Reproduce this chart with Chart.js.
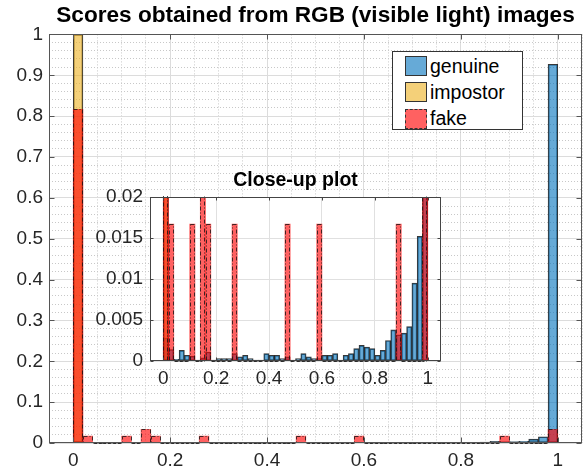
<!DOCTYPE html>
<html>
<head>
<meta charset="utf-8">
<script src="https://cdn.jsdelivr.net/npm/chart.js@4"></script>
<style>
  body { margin: 0; background: #fff; }
  #wrap { position: relative; width: 588px; height: 475px; overflow: hidden; }
  #mainChart { position: absolute; left: 0; top: 0; }
  #insetChart { position: absolute; left: 90px; top: 166px; }
  #legend {
    position: absolute; left: 392px; top: 51px; width: 129px; height: 77px;
    border: 1px solid #333; background: #fff;
    font-family: 'Liberation Sans', Helvetica, Arial, sans-serif; font-size: 19.5px; color: #000;
  }
  #legend .row { position: absolute; left: 12px; height: 20px; display: flex; align-items: center; white-space: nowrap; }
  #legend .sw { display: inline-block; box-sizing: border-box; width: 22px; height: 20px; border: 1px solid #333; margin-right: 3px; }
</style>
</head>
<body>
<div id="wrap">
  <canvas id="mainChart" width="588" height="475"></canvas>
  <canvas id="insetChart" width="360" height="230"></canvas>
  <div id="legend"></div>
</div>
<script>
// histogram bins (width 0.02), given by their centres
const binCenters = [0.01, 0.03, 0.05, 0.07, 0.09, 0.11, 0.13, 0.15, 0.17, 0.19,
  0.21, 0.23, 0.25, 0.27, 0.29, 0.31, 0.33, 0.35, 0.37, 0.39,
  0.41, 0.43, 0.45, 0.47, 0.49, 0.51, 0.53, 0.55, 0.57, 0.59,
  0.61, 0.63, 0.65, 0.67, 0.69, 0.71, 0.73, 0.75, 0.77, 0.79,
  0.81, 0.83, 0.85, 0.87, 0.89, 0.91, 0.93, 0.95, 0.97, 0.99];

const seriesNames = ['genuine', 'impostor', 'fake'];

const genuine = [0.0028, 0.0014, 0.0002, 0.0013, 0.0007, 0.0006, 0.0001, 0.0004, 0.0011, 0.0001,
  0.0003, 0.0003, 0.0003, 0.0009, 0.0005, 0.0007, 0.0003, 0.0001, 0.0001, 0.0009,
  0.0007, 0.0007, 0.0003, 0.0005, 0.0001, 0.0003, 0.0009, 0.0005, 0.0003, 0.0003,
  0.0007, 0.0007, 0.0009, 0.0001, 0.0007, 0.0009, 0.0015, 0.0019, 0.0017, 0.0015,
  0.0007, 0.0013, 0.0025, 0.0038, 0.0032, 0.0034, 0.0042, 0.0095, 0.0152, 0.927];

const impostor = [1, 0, 0, 0, 0, 0, 0, 0, 0, 0,
  0, 0, 0, 0, 0, 0, 0, 0, 0, 0,
  0, 0, 0, 0, 0, 0, 0, 0, 0, 0,
  0, 0, 0, 0, 0, 0, 0, 0, 0, 0,
  0, 0, 0, 0, 0, 0, 0, 0, 0, 0];

const fake = [0.8167, 0.0167, 0, 0, 0, 0.0167, 0, 0.0333, 0.0167, 0,
  0, 0, 0, 0.0167, 0, 0, 0, 0, 0, 0,
  0, 0, 0, 0.0167, 0, 0, 0, 0, 0, 0.0167,
  0, 0, 0, 0, 0, 0, 0, 0, 0, 0,
  0, 0, 0, 0, 0.0167, 0, 0, 0, 0, 0.0333];

// tick labels
const xMajorTicks = [0, 0.2, 0.4, 0.6, 0.8, 1];
const yMajorTicks = [0, 0.1, 0.2, 0.3, 0.4, 0.5, 0.6, 0.7, 0.8, 0.9, 1];
const insetYTicks = [0, 0.005, 0.01, 0.015, 0.02];

const FONT = "'Liberation Sans', Helvetica, Arial, sans-serif";
const fills = ['rgba(0,114,189,0.6)', 'rgba(237,177,32,0.6)', 'rgba(255,0,0,0.62)'];

function stepTicks(lo, hi, step) {
    const out = [];
    const n = Math.round((hi - lo) / step);
    for (let i = 0; i <= n; i++) out.push(+(lo + i * step).toFixed(6));
    return out;
}
function isOn(v, list) { return list.some(t => Math.abs(t - v) < 1e-9); }

function makeDatasets() {
    const all = [genuine, impostor, fake];
    return all.map((vals, i) => ({
        label: seriesNames[i],
        data: vals.map((v, j) => ({ x: binCenters[j], y: v })),
        backgroundColor: fills[i],
        borderColor: 'rgba(20,20,20,0.85)',
        borderWidth: i === 2 ? 0 : 1,
        borderSkipped: false,
        order: 3 - i,          // fake on top, genuine at the bottom
        dashEdge: i === 2
    }));
}

// white plot background, dash-dot edges for "fake", box with inward ticks
const axesPlugin = {
    id: 'axesBox',
    beforeDraw(chart, args, opts) {
        if (!opts.fill) return;
        const a = chart.chartArea, ctx = chart.ctx;
        ctx.save();
        ctx.fillStyle = opts.fill;
        ctx.fillRect(a.left, a.top, a.width, a.height);
        ctx.restore();
    },
    afterDatasetsDraw(chart) {
        const ctx = chart.ctx, a = chart.chartArea;
        chart.data.datasets.forEach((ds, i) => {
            if (!ds.dashEdge) return;
            const meta = chart.getDatasetMeta(i);
            ctx.save();
            ctx.beginPath();
            ctx.rect(a.left, a.top - 1, a.width, a.height + 2);
            ctx.clip();
            ctx.strokeStyle = 'rgba(20,20,20,0.8)';
            ctx.lineWidth = 1;
            ctx.setLineDash([4, 2, 1, 2]);
            meta.data.forEach(bar => {
                const p = bar.getProps(['x', 'y', 'base', 'width'], true);
                const left = Math.round(p.x - p.width / 2) + 0.5;
                const top = Math.round(Math.min(p.y, p.base)) + 0.5;
                const h = Math.round(Math.abs(p.base - p.y));
                ctx.strokeRect(left, top, Math.round(p.width) - 1, h);
            });
            ctx.restore();
        });
    },
    afterDraw(chart, args, opts) {
        const ctx = chart.ctx, a = chart.chartArea;
        const L = Math.round(a.left) + 0.5, R = Math.round(a.right) - 0.5;
        const T = Math.round(a.top) + 0.5, B = Math.round(a.bottom) - 0.5;
        const len = opts.tickLen || 4;
        ctx.save();
        ctx.strokeStyle = opts.color || '#555';
        ctx.lineWidth = 1;
        ctx.strokeRect(L, T, R - L, B - T);
        ctx.beginPath();
        (opts.xTicks || []).forEach(v => {
            const px = Math.round(chart.scales.x.getPixelForValue(v)) + 0.5;
            ctx.moveTo(px, B); ctx.lineTo(px, B - len);
            ctx.moveTo(px, T); ctx.lineTo(px, T + len);
        });
        (opts.yTicks || []).forEach(v => {
            const py = Math.round(chart.scales.y.getPixelForValue(v)) + 0.5;
            ctx.moveTo(L, py); ctx.lineTo(L + len, py);
            ctx.moveTo(R, py); ctx.lineTo(R - len, py);
        });
        ctx.stroke();
        ctx.restore();
    }
};

function tickFont(size) { return { family: FONT, size: size, lineHeight: 1.2 }; }

// ---- main chart ----
const mainXTicks = stepTicks(-0.05, 1.05, 0.05);
const mainYTicks = stepTicks(0, 1, 0.02);

new Chart(document.getElementById('mainChart'), {
    type: 'bar',
    data: { datasets: makeDatasets() },
    plugins: [axesPlugin],
    options: {
        responsive: false,
        animation: false,
        layout: { padding: { left: 0, right: 6, top: 0, bottom: 0 } },
        datasets: { bar: { grouped: false, barPercentage: 1, categoryPercentage: 1 } },
        plugins: {
            legend: { display: false },
            tooltip: { enabled: false },
            title: {
                display: true,
                text: 'Scores obtained from RGB (visible light) images',
                fullSize: false,
                color: '#000',
                font: { family: FONT, size: 22.6, weight: 'bold', lineHeight: 1.2 },
                padding: { top: 2.5, bottom: 4.8 }
            },
            axesBox: { color: '#555', tickLen: 5, xTicks: xMajorTicks, yTicks: yMajorTicks }
        },
        scales: {
            x: {
                type: 'linear', min: -0.05, max: 1.05, offset: false,
                afterBuildTicks: s => { s.ticks = mainXTicks.map(v => ({ value: v })); },
                afterFit: s => { s.height = 32; },
                ticks: {
                    autoSkip: false, maxRotation: 0, padding: 6, color: '#262626', font: tickFont(19),
                    callback: v => isOn(v, xMajorTicks) ? String(+v.toFixed(2)) : ''
                },
                grid: {
                    offset: false, drawTicks: false,
                    color: c => (c.tick && !isOn(c.tick.value, xMajorTicks)) ? '#c8c8c8' : '#dcdcdc'
                },
                border: { display: false, dash: c => (c.tick && !isOn(c.tick.value, xMajorTicks)) ? [1, 2] : [] }
            },
            y: {
                type: 'linear', min: 0, max: 1,
                afterBuildTicks: s => { s.ticks = mainYTicks.map(v => ({ value: v })); },
                afterFit: s => { s.width = 49; },
                ticks: {
                    autoSkip: false, padding: 6, color: '#262626', font: tickFont(19),
                    callback: v => isOn(v, yMajorTicks) ? String(+v.toFixed(2)) : ''
                },
                grid: {
                    drawTicks: false,
                    color: c => (c.tick && !isOn(c.tick.value, yMajorTicks)) ? '#c8c8c8' : '#dcdcdc'
                },
                border: { display: false, dash: c => (c.tick && !isOn(c.tick.value, yMajorTicks)) ? [1, 2] : [] }
            }
        }
    }
});

// ---- close-up inset ----
new Chart(document.getElementById('insetChart'), {
    type: 'bar',
    data: { datasets: makeDatasets() },
    plugins: [axesPlugin],
    options: {
        responsive: false,
        animation: false,
        layout: { padding: { left: 0, right: 9, top: 0, bottom: 0 } },
        datasets: { bar: { grouped: false, barPercentage: 1, categoryPercentage: 1 } },
        plugins: {
            legend: { display: false },
            tooltip: { enabled: false },
            title: {
                display: true,
                text: 'Close-up plot',
                fullSize: false,
                color: '#000',
                font: { family: FONT, size: 19.5, weight: 'bold', lineHeight: 1.2 },
                padding: { top: 2.5, bottom: 5.1 }
            },
            axesBox: { fill: '#fff', color: '#444', tickLen: 3, xTicks: xMajorTicks, yTicks: insetYTicks }
        },
        scales: {
            x: {
                type: 'linear', min: -0.05, max: 1.05, offset: false,
                afterBuildTicks: s => { s.ticks = xMajorTicks.map(v => ({ value: v })); },
                afterFit: s => { s.height = 35; },
                ticks: {
                    autoSkip: false, maxRotation: 0, padding: 6, color: '#262626', font: tickFont(19),
                    callback: v => String(+v.toFixed(2))
                },
                grid: { offset: false, drawTicks: false, color: '#e0e0e0' },
                border: { display: false }
            },
            y: {
                type: 'linear', min: 0, max: 0.02,
                afterBuildTicks: s => { s.ticks = insetYTicks.map(v => ({ value: v })); },
                afterFit: s => { s.width = 60; },
                ticks: {
                    autoSkip: false, padding: 7, color: '#262626', font: tickFont(19),
                    callback: v => String(+v.toFixed(3))
                },
                grid: { drawTicks: false, color: '#e0e0e0' },
                border: { display: false }
            }
        }
    }
});

// ---- legend ----
const legendEl = document.getElementById('legend');
seriesNames.forEach((name, i) => {
    const row = document.createElement('div');
    row.className = 'row';
    row.style.top = (4 + i * 26.3) + 'px';
    const sw = document.createElement('span');
    sw.className = 'sw';
    sw.style.background = fills[i];
    if (i === 2) sw.style.borderStyle = 'dashed';
    const label = document.createElement('span');
    label.textContent = name;
    row.appendChild(sw);
    row.appendChild(label);
    legendEl.appendChild(row);
});
</script>
</body>
</html>
